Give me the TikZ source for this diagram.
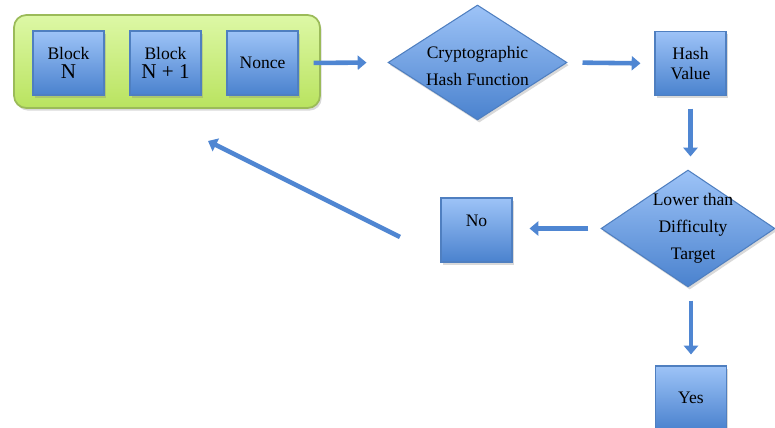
\documentclass[tikz,border=0pt]{standalone}
\usepackage{fontspec}
\setmainfont{Liberation Serif}
\usetikzlibrary{arrows.meta,shapes.geometric,shadows}
\definecolor{boxtop}{HTML}{9DC3F7}
\definecolor{boxbot}{HTML}{4A82CE}
\definecolor{boxline}{HTML}{4F7FC0}
\definecolor{greentop}{HTML}{DDF8A6}
\definecolor{greenbot}{HTML}{B9E35F}
\definecolor{greenline}{HTML}{9BBB59}
\definecolor{arrowblue}{HTML}{4F86D2}
\tikzset{
	softshadow/.style={drop shadow={shadow xshift=1pt, shadow yshift=-1.5pt, opacity=0.3}},
	chainbox/.style={rectangle, rounded corners=7pt, draw=greenline, line width=1pt, top color=greentop, bottom color=greenbot, minimum width=6.12cm, minimum height=1.86cm, softshadow},
	block/.style={rectangle, draw=boxline, line width=0.6pt, top color=boxtop, bottom color=boxbot, minimum width=1.42cm, minimum height=1.28cm, align=center, font=\fontsize{10}{11}\selectfont, softshadow},
	decision/.style={diamond, draw=boxline, line width=0.6pt, top color=boxtop, bottom color=boxbot, inner sep=0pt, softshadow},
	inside/.style={align=center, font=\fontsize{10}{15.5}\selectfont},
	flow/.style={draw=arrowblue, line width=2.6pt, -{Triangle[width=8pt,length=5pt]}},
}

\begin{document}
\begin{tikzpicture}[x=0.02cm, y=-0.02cm]
			%%%%% START %%%%%
			\useasboundingbox (0, 0) rectangle (775, 428);
			
			\node[chainbox] (chain) at (167, 61.5) {};
			\node[block] (blockn) at (68.5, 63) {Block\\{\fontsize{12}{12}\selectfont N}};
			\node[block] (blocknext) at (165.5, 63) {Block\\{\fontsize{12}{12}\selectfont N + 1}};
			\node[block] (nonce) at (262.5, 63) {Nonce};
			
			\node[decision, minimum width=3.58cm, minimum height=2.3cm,
				label={[inside, yshift=-0.07cm]center:Cryptographic\\Hash Function}] (hashfn) at (477.5, 62.5) {};
			\node[block] (hashval) at (690.5, 63.5) {Hash\\Value};
			
			\node[decision, minimum width=3.48cm, minimum height=2.34cm,
				label={[inside, xshift=0.1cm]center:Lower than\\Difficulty\\Target}] (target) at (688, 228.5) {};
			\node[block, text depth=10pt] (no) at (476.5, 230) {No};
			\node[block] (yes) at (691, 398) {Yes};
			
			\draw[flow, shorten <=0.3cm, shorten >=0.42cm] (nonce.east) -- (hashfn.west);
			\draw[flow, shorten <=0.3cm, shorten >=0.28cm] (hashfn.east) -- (hashval.west);
			\draw[flow, shorten <=0.25cm, shorten >=0.26cm] (hashval.south) -- (hashval.south |- target.north);
			\draw[flow, shorten <=0.24cm, shorten >=0.34cm] (target.west) -- (target.west -| no.east);
			\draw[flow, shorten <=0.26cm, shorten >=0.22cm] (yes.north |- target.south) -- (yes.north);
			
			\coordinate (retry) at (400, 237);
			\coordinate (restart) at (208, 141);
			\draw[flow] (retry) -- (restart);
			
			%%%%% END %%%%%
\end{tikzpicture}
\end{document}
